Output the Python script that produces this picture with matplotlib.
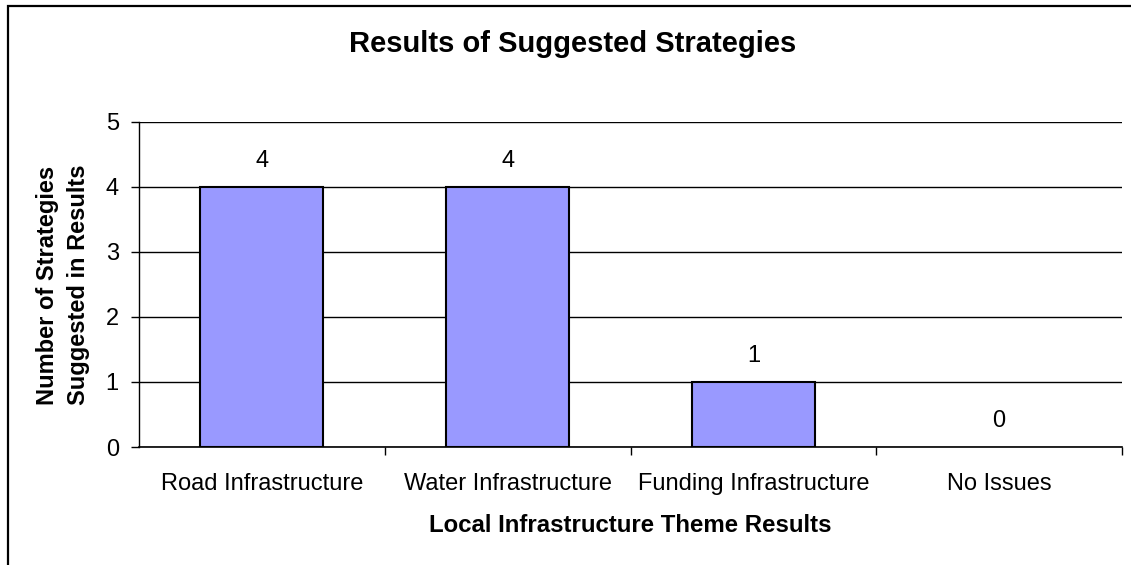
import matplotlib
matplotlib.use("Agg")
import matplotlib.pyplot as plt
from matplotlib.patches import Rectangle

plt.rcParams['font.family'] = ['Liberation Sans', 'DejaVu Sans']

# theme results
themes = ['Road Infrastructure', 'Water Infrastructure', 'Funding Infrastructure', 'No Issues']
counts = [4, 4, 1, 0]
yticks = [0, 1, 2, 3, 4, 5]

fig = plt.figure(figsize=(11.31, 5.65), dpi=100)
ax = fig.add_axes([139/1131, 1 - 447/565, (1122 - 139)/1131, (447 - 121.7)/565])

x = list(range(len(themes)))
# empty categories get no outline
lws = [1.5 if c > 0 else 0 for c in counts]
ax.bar(x, counts, width=0.5, color='#9999FF', edgecolor='black', linewidth=lws, zorder=3)

for xi, c in zip(x, counts):
    ax.annotate(str(c), (xi, c), xytext=(0, 26), textcoords='offset pixels',
                ha='center', va='center', fontsize=17)

ax.set_xlim(-0.5, len(themes) - 0.5)
ax.set_ylim(0, 5)
ax.set_yticks(yticks)
ax.set_yticklabels([str(t) for t in yticks], fontsize=17)
ax.yaxis.grid(True, color='black', linewidth=1, zorder=0)
ax.set_axisbelow(True)

# category labels centered, tick marks between categories
ax.set_xticks(x)
ax.set_xticklabels(themes, fontsize=17)
ax.tick_params(axis='x', which='major', length=0, pad=19)
ax.set_xticks([i + 0.5 for i in x], minor=True)
ax.tick_params(axis='x', which='minor', length=5.5, width=1, direction='out')
ax.tick_params(axis='y', length=5.5, width=1, pad=9, direction='out')

for s in ['top', 'right']:
    ax.spines[s].set_visible(False)
ax.spines['left'].set_linewidth(1)
ax.spines['bottom'].set_linewidth(1.2)

fig.text(573/1131, 1 - 44/565, 'Results of Suggested Strategies', ha='center', va='center',
         fontsize=21, fontweight='bold')
fig.text(630/1131, 1 - 525/565, 'Local Infrastructure Theme Results', ha='center', va='center',
         fontsize=17.3, fontweight='bold')
fig.text(63/1131, 1 - 285/565, 'Number of Strategies\nSuggested in Results', ha='center', va='center',
         rotation=90, fontsize=17, fontweight='bold', linespacing=1.45)

# chart border
fig.patches.append(Rectangle((8/1131, -0.1), 1.2, 1.1 - 6/565, transform=fig.transFigure,
                             fill=False, edgecolor='black', linewidth=1.6))

fig.savefig('out.png', dpi=100, facecolor='white')
